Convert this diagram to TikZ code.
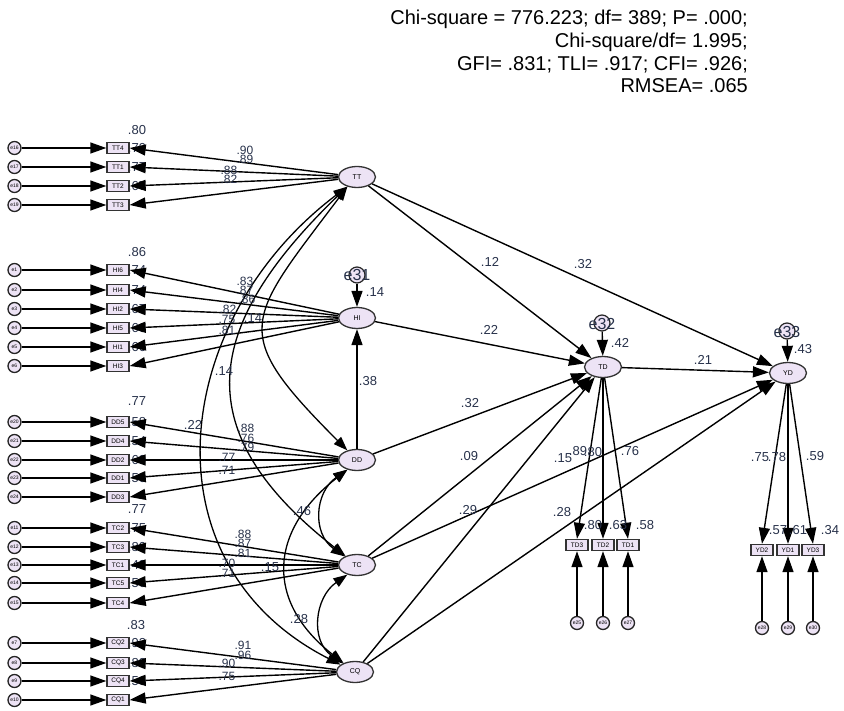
\documentclass[tikz,border=0pt]{standalone}
\usepackage{fontspec}
\setmainfont{Liberation Sans}
\usetikzlibrary{arrows.meta,shapes.geometric}
\definecolor{lav}{HTML}{EDE3F5}
\definecolor{numc}{HTML}{27314A}
\tikzset{
  lat/.style={ellipse, draw=black!80, line width=1.3pt, fill=lav, minimum width=37pt,
    minimum height=21pt, inner sep=0pt, font=\fontsize{7}{8}\selectfont},
  obs/.style={rectangle, draw=black!80, line width=1.4pt, fill=lav, minimum width=22pt,
    minimum height=11pt, inner sep=0pt, font=\fontsize{6.5}{7}\selectfont},
  err/.style={circle, draw=black!85, line width=1.3pt, fill=lav, minimum size=13pt,
    inner sep=0pt, font=\fontsize{5}{5}\selectfont},
  dist/.style={circle, draw=black!85, line width=1.2pt, fill=lav, minimum size=16pt, inner sep=0pt},
  distlab/.style={text=numc, font=\fontsize{16}{16}\selectfont, inner sep=0pt},
  ar/.style={-{Triangle[length=16pt,width=11pt]}, line width=1.4pt, black},
  cov/.style={{Triangle[length=14pt,width=10pt]}-{Triangle[length=14pt,width=10pt]}, line width=1.3pt, black},
  num/.style={text=numc, font=\fontsize{13}{13}\selectfont, inner sep=0pt},
  load/.style={text=numc, font=\fontsize{12}{12}\selectfont, inner sep=0pt},
  stat/.style={anchor=base east, inner sep=0pt, font=\fontsize{20}{22}\selectfont},
}
\begin{document}
\begin{tikzpicture}[x=1pt,y=1pt]
\useasboundingbox (0,0) rectangle (844,-711);

% fit statistics
\node[stat] (s1) at (748,-25) {Chi-square = 776.223; df= 389; P= .000;};
\node[stat] (s2) at (748,-48) {Chi-square/df= 1.995;};
\node[stat] (s3) at (748,-70.5) {GFI= .831; TLI= .917; CFI= .926;};
\node[stat] (s4) at (748,-93) {RMSEA= .065};

% latent variables
\node[lat] (TT) at (357,-177) {TT};
\node[lat] (HI) at (357,-318) {HI};
\node[lat] (DD) at (357,-460) {DD};
\node[lat] (TC) at (357,-565) {TC};
\node[lat] (CQ) at (355,-672) {CQ};
\node[lat] (TD) at (603,-367) {TD};
\node[lat] (YD) at (788,-373) {YD};

% squared multiple correlations of the left indicators
\foreach \x/\y/\t [count=\i] in {
  137/130/.80, 137/148/.79, 137/167/.77, 137/186/.67,
  137/252/.86, 137/270/.74, 137/290/.74, 137/309/.67, 137/328/.66, 137/347/.66,
  137/401/.77, 137/422/.58, 137/441/.54, 137/460/.60, 137/478/.50,
  137/509/.77, 137/528/.75, 137/547/.80, 137/565/.49, 137/583/.56,
  136/625/.83, 137/643/.92, 137/663/.82, 137/681/.56}
  \node[num] (r\i) at (\x,-\y) {\t};

% left indicators with their error terms
\foreach \n/\e/\y in {
  TT4/e16/148, TT1/e17/167, TT2/e18/186, TT3/e19/205,
  HI6/e1/270, HI4/e2/290, HI2/e3/309, HI5/e4/328, HI1/e5/347, HI3/e6/366,
  DD5/e20/422, DD4/e21/441, DD2/e22/460, DD1/e23/478, DD3/e24/497,
  TC2/e11/528, TC3/e12/547, TC1/e13/565, TC5/e14/583, TC4/e15/603,
  CQ2/e7/643, CQ3/e8/663, CQ4/e9/681, CQ1/e10/700}{
  \node[obs] (\n) at (118,-\y) {\n};
  \node[err] (\e) at (14.5,-\y) {\e};
  \draw[ar] (\e) -- (\n);
}

% loadings
\foreach \n in {TT4,TT1,TT2,TT3} \draw[ar] (TT) -- (\n.east);
\foreach \n in {HI6,HI4,HI2,HI5,HI1,HI3} \draw[ar] (HI) -- (\n.east);
\foreach \n in {DD5,DD4,DD2,DD1,DD3} \draw[ar] (DD) -- (\n.east);
\foreach \n in {TC2,TC3,TC1,TC5,TC4} \draw[ar] (TC) -- (\n.east);
\foreach \n in {CQ2,CQ3,CQ4,CQ1} \draw[ar] (CQ) -- (\n.east);

% covariances among the exogenous factors
\draw[cov] (TT.225) to[out=233,in=135,distance=169pt] (DD);
\draw[cov] (TT.225) to[out=224,in=142,distance=202pt] (TC);
\draw[cov] (TT.225) to[out=217,in=153,distance=222pt] (CQ);
\draw[cov] (DD.225) to[out=215,in=145,distance=40pt] (TC);
\draw[cov] (DD.225) to[out=218,in=142,distance=100pt] (CQ);
\draw[cov] (TC.225) to[out=215,in=145,distance=40pt] (CQ);

% disturbances
\node[dist] (e31) at (357,-275) {};
\node[dist] (e32) at (602,-323) {};
\node[dist] (e33) at (787,-331) {};
\draw[ar] (e31) -- (HI);
\draw[ar] (e32) -- (TD);
\draw[ar] (e33) -- (YD);
\node[distlab] (e31t) at (357,-275) {e31};
\node[distlab] (e32t) at (602,-324) {e32};
\node[distlab] (e33t) at (787,-332) {e33};

% structural paths
\draw[ar] (DD) -- (HI);
\draw[ar] (TT) -- (TD);
\draw[ar] (TT) -- (YD);
\draw[ar] (HI) -- (TD);
\draw[ar] (DD) -- (TD);
\draw[ar] (TC) -- (TD);
\draw[ar] (TC) -- (YD);
\draw[ar] (CQ) -- (TD);
\draw[ar] (CQ) -- (YD);
\draw[ar] (TD) -- (YD);

% right indicators
\foreach \n/\e/\x/\l in {TD3/e25/577/TD, TD2/e26/603/TD, TD1/e27/628/TD}{
  \node[obs] (\n) at (\x,-545) {\n};
  \node[err] (\e) at (\x,-623) {\e};
  \draw[ar] (\l) -- (\n.north);
  \draw[ar] (\e) -- (\n.south);
}
\foreach \n/\e/\x/\l in {YD2/e28/762/YD, YD1/e29/788/YD, YD3/e30/813/YD}{
  \node[obs] (\n) at (\x,-550) {\n};
  \node[err] (\e) at (\x,-628) {\e};
  \draw[ar] (\l) -- (\n.north);
  \draw[ar] (\e) -- (\n.south);
}

% factor loadings on the left
\foreach \x/\y/\t [count=\i] in {
  245/150/.90, 245/159/.89, 229/170/.88, 229/179/.82,
  245/281/.83, 245/290/.87, 247/299/.86, 228/309/.82, 227/319/.75, 227/330/.81,
  246/428/.88, 246/438/.76, 246/447/.79, 227/457/.77, 227/470/.71,
  243/534/.88, 243/543/.87, 243/553/.81, 227/563/.70, 227/573/.71,
  243/645/.91, 243/655/.96, 227/663/.90, 227/676/.75}
  \node[load] (l\i) at (\x,-\y) {\t};

% coefficients, correlations and explained variances
\foreach \x/\y/\t [count=\i] in {
  490/262/.12, 583/264/.32, 489/330/.22, 368/381/.38, 470/403/.32,
  469/456/.09, 563/458/.15, 468/510/.29, 562/512/.28, 703/360/.21,
  620/343/.42, 803/349/.43, 375/292/.14,
  578/451/.89, 593/452/.80, 630/451/.76, 593/525/.80, 618/525/.63, 645/525/.58,
  760/457/.75, 777/457/.78, 815/456/.59, 778/530/.57, 798/530/.61, 830/530/.34,
  253/318/.14, 224/371/.14, 193/425/.22, 302/511/.46, 299/619/.28, 270/567/.15}
  \node[num] (c\i) at (\x,-\y) {\t};
\end{tikzpicture}
\end{document}
